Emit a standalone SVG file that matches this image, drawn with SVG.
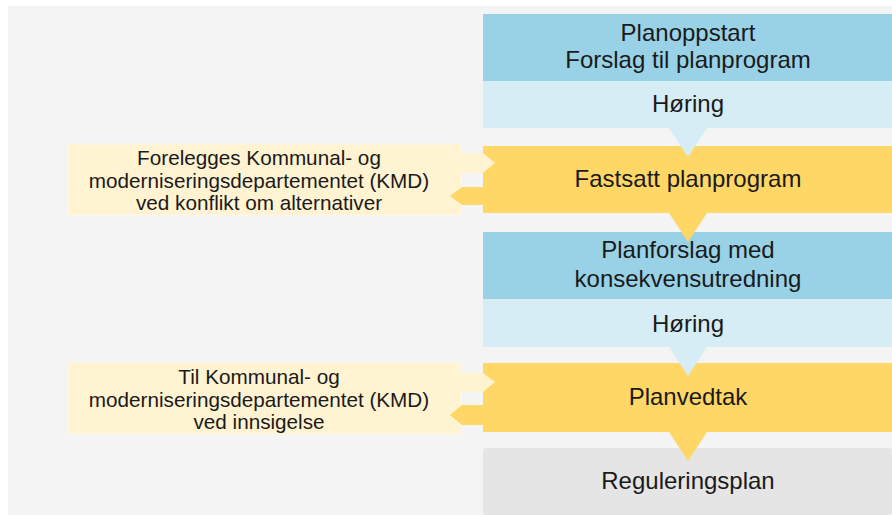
<svg xmlns="http://www.w3.org/2000/svg" width="892" height="515" viewBox="0 0 892 515">
  <style>
    .main { font-family: "Liberation Sans", Arial, sans-serif; font-size: 24px; fill: #1a1a1a; text-anchor: middle; }
    .side { font-family: "Liberation Sans", Arial, sans-serif; font-size: 20.7px; fill: #1a1a1a; text-anchor: middle; }
    .dark { fill: #99d1e6; }
    .light { fill: #d6edf6; }
    .gold { fill: #ffd766; }
    .pale { fill: #fff3d2; }
    .grey { fill: #e5e5e5; }
  </style>

  <!-- canvas -->
  <rect x="0" y="0" width="892" height="515" fill="#ffffff"/>
  <rect x="8" y="6" width="884" height="509" fill="#f4f4f4"/>

  <!-- process steps -->
  <g id="planoppstart">
    <rect class="dark" x="483" y="14" width="409" height="67"/>
    <text class="main" x="688" y="41">Planoppstart</text>
    <text class="main" x="688" y="68">Forslag til planprogram</text>
  </g>
  <g id="horing1">
    <rect class="light" x="483" y="81" width="409" height="47"/>
    <text class="main" x="688" y="112">Høring</text>
  </g>
  <g id="fastsatt">
    <rect class="gold" x="483" y="146" width="409" height="67"/>
    <text class="main" x="688" y="187">Fastsatt planprogram</text>
  </g>
  <g id="planforslag">
    <rect class="dark" x="483" y="232" width="409" height="67"/>
    <text class="main" x="688" y="258">Planforslag med</text>
    <text class="main" x="688" y="287">konsekvensutredning</text>
  </g>
  <g id="horing2">
    <rect class="light" x="483" y="299" width="409" height="48"/>
    <text class="main" x="688" y="332">Høring</text>
  </g>
  <g id="planvedtak">
    <rect class="gold" x="483" y="363" width="409" height="69"/>
    <text class="main" x="688" y="405">Planvedtak</text>
  </g>
  <g id="regulering">
    <rect class="grey" x="483" y="448" width="409" height="67" rx="3"/>
    <text class="main" x="688" y="489">Reguleringsplan</text>
  </g>

  <!-- ministry side notes -->
  <g id="kmd1">
    <rect class="pale" x="68" y="144" width="393" height="71" stroke="#fff8e8" stroke-width="1"/>
    <text class="side" x="259" y="165">Forelegges Kommunal- og</text>
    <text class="side" x="259" y="188">moderniseringsdepartementet (KMD)</text>
    <text class="side" x="259" y="210">ved konflikt om alternativer</text>
  </g>
  <g id="kmd2">
    <rect class="pale" x="68" y="363" width="393" height="71" stroke="#fff8e8" stroke-width="1"/>
    <text class="side" x="259" y="384">Til Kommunal- og</text>
    <text class="side" x="259" y="407">moderniseringsdepartementet (KMD)</text>
    <text class="side" x="259" y="429">ved innsigelse</text>
  </g>

  <!-- connectors -->
  <g id="connectors">
    <!-- step-down pointers -->
    <polygon class="light" points="669,128 707,128 688,157"/>
    <polygon class="gold" points="669,213 707,213 688,242"/>
    <polygon class="light" points="669,347 707,347 688,376"/>
    <polygon class="gold" points="669,432 707,432 688,461"/>
    <!-- exchange with the ministry -->
    <polygon class="pale" points="460,153 483,153 495,163 483,173 460,173"/>
    <polygon class="gold" points="483,187 462,187 450,196 462,205 483,205"/>
    <polygon class="pale" points="460,373 483,373 495,382 483,392 460,392"/>
    <polygon class="gold" points="483,405 462,405 450,415 462,425 483,425"/>
  </g>
</svg>
